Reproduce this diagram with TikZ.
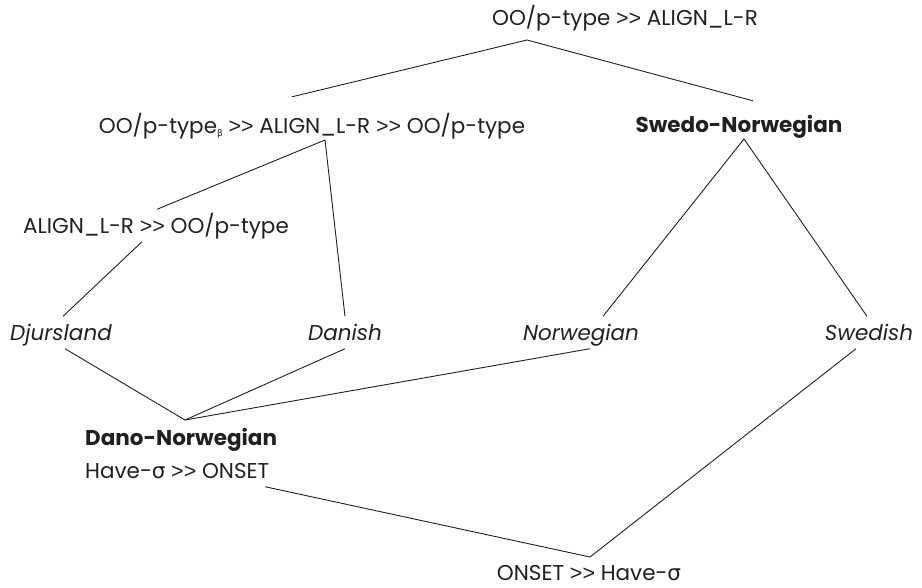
\documentclass[tikz,border=0pt]{standalone}
\usepackage{fontspec}
\setmainfont{Poppins}
\newfontfamily\greekfont{DejaVu Sans}
\newfontfamily\symfont{Liberation Sans}
\newcommand{\grk}[1]{{\greekfont #1}}
\newcommand{\gtgt}{{\symfont >{}>}}
\newcommand{\subbeta}{\raisebox{-3.5pt}{\fontsize{9pt}{9pt}\selectfont\greekfont β}}
\definecolor{inkcolor}{HTML}{231f20}

\begin{document}
\begin{tikzpicture}[x=1pt,y=-1pt,
  lbl/.style={anchor=base, inner xsep=0pt, inner ysep=8.5pt, text height=15pt, text depth=0pt,
    text=inkcolor, font=\fontsize{21.5pt}{21.5pt}\selectfont},
  boldlbl/.style={lbl, font=\fontsize{21.5pt}{21.5pt}\selectfont\bfseries},
  itlbl/.style={lbl, font=\fontsize{21.5pt}{21.5pt}\selectfont\itshape},
  link/.style={draw=inkcolor, line width=0.9pt}]
\useasboundingbox (0,0) rectangle (922,587);
% rankings
\node[lbl] (top) at (625, 25) {OO/p-type \gtgt{} ALIGN\_L-R};
\node[lbl] (mid) at (312, 133) {OO/p-type\subbeta{} \gtgt{} ALIGN\_L-R \gtgt{} OO/p-type};
\node[boldlbl] (swno) at (739, 132) {Swedo-Norwegian};
\node[lbl] (alr) at (156, 233) {ALIGN\_L-R \gtgt{} OO/p-type};
% varieties
\node[itlbl] (djur) at (61, 340) {Djursland};
\node[itlbl] (dan) at (345, 340) {Danish};
\node[itlbl] (norw) at (581, 340) {Norwegian};
\node[itlbl] (swed) at (869, 340) {Swedish};
\node[boldlbl, anchor=base west] (dano) at (85, 445) {Dano-Norwegian};
\node[lbl, anchor=base west] (have) at (85, 478) {Have-\grk{σ} \gtgt{} ONSET};
\node[lbl] (onset) at (589, 580) {ONSET \gtgt{} Have-\grk{σ}};
% junctions
\coordinate (jtop) at (527, 40);
\coordinate (jmid) at (325, 140);
\coordinate (jswno) at (744, 139);
\coordinate (jdano) at (185, 420);
\coordinate (jonset) at (590, 557);
% connectors
\draw[link] ([xshift=-20pt, yshift=12.5pt]mid.north) -- (jtop) -- ([xshift=14pt, yshift=7.5pt]swno.north);
\draw[link] ([xshift=1pt]alr.north) -- (jmid) -- (dan.north);
\draw[link] ([xshift=-14pt]alr.south) -- ([xshift=2pt]djur.north);
\draw[link] ([xshift=22pt]norw.north) -- (jswno) -- ([xshift=-2pt]swed.north);
\draw[link] ([xshift=4pt]djur.south) -- (jdano) -- (dan.south);
\draw[link] (jdano) -- ([xshift=9pt]norw.south);
\draw[link] ([xshift=180pt]have.south west) -- (jonset) -- ([xshift=-13pt]swed.south);
\end{tikzpicture}
\end{document}
